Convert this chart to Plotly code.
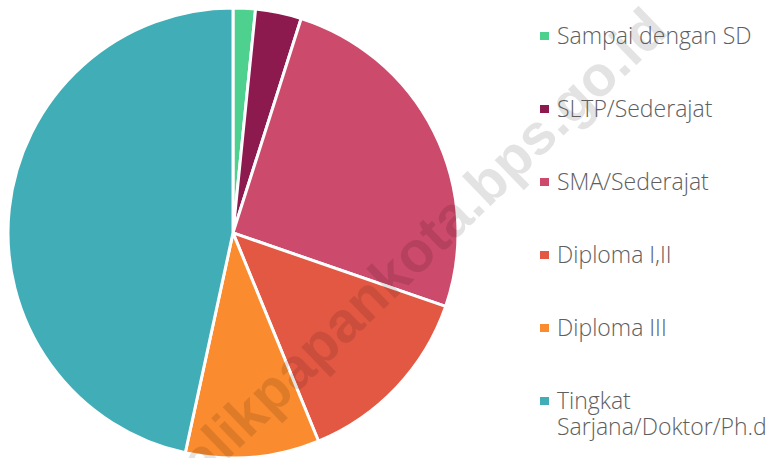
import plotly.graph_objects as go

labels = ["Sampai dengan SD", "SLTP/Sederajat", "SMA/Sederajat",
          "Diploma I,II", "Diploma III", "Tingkat Sarjana/Doktor/Ph.d"]
legend_lines = [["Sampai dengan SD"], ["SLTP/Sederajat"], ["SMA/Sederajat"],
                ["Diploma I,II"], ["Diploma III"], ["Tingkat", "Sarjana/Doktor/Ph.d"]]
values = [1.6, 3.3, 25.4, 13.5, 9.6, 46.6]
colors = ["#4ed08f", "#8d1a4f", "#cc4a6b", "#e35843", "#fa8b2e", "#41adb7"]
watermark = "balikpapankota.bps.go.id"

W, H = 773, 458

fig = go.Figure(go.Pie(
    labels=labels, values=values, sort=False, direction="clockwise", rotation=0,
    marker=dict(colors=colors, line=dict(color="white", width=3)),
    textinfo="none", hoverinfo="label+percent", showlegend=False,
    domain=dict(x=[8 / W, 458 / W], y=[0, 0.983]),
))

annotations = [dict(
    text=watermark, x=410 / W, y=1 - 256 / H, xref="paper", yref="paper",
    xanchor="center", yanchor="middle", textangle=-44, showarrow=False,
    font=dict(family="Liberation Sans", size=57, color="rgba(0,0,0,0.11)", weight="bold"),
)]
shapes = []
for i, (lines, c) in enumerate(zip(legend_lines, colors)):
    cy = 36 + 73 * i
    shapes.append(dict(type="rect", xref="paper", yref="paper",
                       x0=540 / W, x1=549 / W, y0=1 - (cy + 4) / H, y1=1 - (cy - 4) / H,
                       fillcolor=c, line=dict(width=0)))
    for j, t in enumerate(lines):
        ty = cy - 1 + 26 * j
        annotations.append(dict(
            text=t, x=555 / W, y=1 - ty / H, xref="paper", yref="paper",
            xanchor="left", yanchor="middle", align="left", showarrow=False,
            font=dict(family="Open Sans", size=23, color="#5e5e5e", weight=300),
        ))

fig.update_layout(
    width=W, height=H, margin=dict(l=0, r=0, t=0, b=0),
    paper_bgcolor="white", plot_bgcolor="white",
    annotations=annotations, shapes=shapes,
)
fig.write_html("out.html", config={"displayModeBar": False},
               post_script="document.body.style.margin='0';")
